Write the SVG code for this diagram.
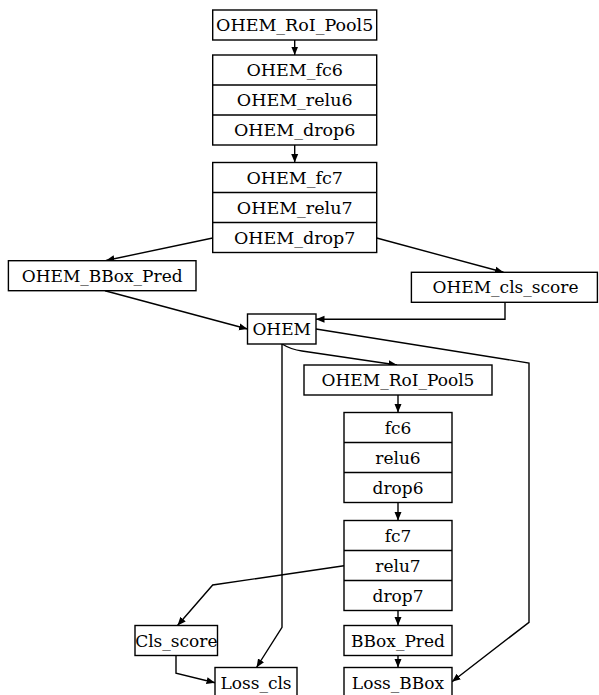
<svg xmlns="http://www.w3.org/2000/svg" width="599" height="695" viewBox="0 0 599 695">
<style>
.box{fill:#fff;stroke:#000;stroke-width:1.4}
.div{stroke:#000;stroke-width:1.4}
text{font-family:"DejaVu Serif","Liberation Serif",serif;font-size:17px;text-anchor:middle;fill:#000}
.top{font-size:17.5px}
.c{fill:none;stroke:#000;stroke-width:1.4;marker-end:url(#ah)}
</style>
<defs>
<marker id="ah" markerUnits="userSpaceOnUse" markerWidth="10" markerHeight="9" refX="8.5" refY="4.5" orient="auto">
<path d="M0,1 L8.5,4.5 L0,8 Z" fill="#000"/>
</marker>
</defs>
<rect width="599" height="695" fill="#fff"/>
<g id="connectors">
<path class="c" d="M294.7,40 L294.7,55"/>
<path class="c" d="M294.7,145 L294.7,162.5"/>
<path class="c" d="M212.7,238 L106,260.5"/>
<path class="c" d="M376.7,238 L503.5,272.3"/>
<path class="c" d="M105,290.7 L247.5,329"/>
<path class="c" d="M505,302.3 L505,319.3 L316,319.3"/>
<path class="c" d="M316,329 L529,363 L529,622.3 L452,681.7"/>
<path class="c" d="M282,344 Q291,349.5 302,351 L397,365"/>
<path class="c" d="M282,344 L282,627.3 L256.5,667.5"/>
<path class="c" d="M398,395 L398,412.5"/>
<path class="c" d="M398,502.5 L398,520.5"/>
<path class="c" d="M398,610.5 L398,625.5"/>
<path class="c" d="M398,655.5 L398,667.5"/>
<path class="c" d="M344,565.7 L212.7,585 L177.5,625.5"/>
<path class="c" d="M176,655.5 L176,673.3 L215,682.7"/>
</g>
<g id="ohem_roi_pool5_top">
<rect class="box" x="212.7" y="10" width="164" height="30"/>
<text class="top" x="294.7" y="31.2">OHEM_RoI_Pool5</text>
</g>
<g id="ohem_fc6_block">
<rect class="box" x="212.7" y="55" width="164" height="90"/>
<line class="div" x1="212.7" y1="85" x2="376.7" y2="85"/>
<line class="div" x1="212.7" y1="115" x2="376.7" y2="115"/>
<text class="top" x="294.7" y="76.2">OHEM_fc6</text>
<text class="top" x="294.7" y="106.2">OHEM_relu6</text>
<text class="top" x="294.7" y="136.2">OHEM_drop6</text>
</g>
<g id="ohem_fc7_block">
<rect class="box" x="212.7" y="162.5" width="164" height="90"/>
<line class="div" x1="212.7" y1="192.5" x2="376.7" y2="192.5"/>
<line class="div" x1="212.7" y1="222.5" x2="376.7" y2="222.5"/>
<text class="top" x="294.7" y="183.7">OHEM_fc7</text>
<text class="top" x="294.7" y="213.7">OHEM_relu7</text>
<text class="top" x="294.7" y="243.7">OHEM_drop7</text>
</g>
<g id="ohem_bbox_pred">
<rect class="box" x="8.4" y="260.7" width="187.6" height="30"/>
<text x="102.2" y="281.7">OHEM_BBox_Pred</text>
</g>
<g id="ohem_cls_score">
<rect class="box" x="411.4" y="272.3" width="186" height="30"/>
<text x="505.5" y="293.3">OHEM_cls_score</text>
</g>
<g id="ohem">
<rect class="box" x="247.5" y="314" width="68.5" height="30"/>
<text x="281.7" y="335">OHEM</text>
</g>
<g id="ohem_roi_pool5">
<rect class="box" x="304" y="365" width="188" height="30"/>
<text x="398" y="386">OHEM_RoI_Pool5</text>
</g>
<g id="fc6_block">
<rect class="box" x="344" y="412.5" width="108" height="90"/>
<line class="div" x1="344" y1="442.5" x2="452" y2="442.5"/>
<line class="div" x1="344" y1="472.5" x2="452" y2="472.5"/>
<text x="398" y="433.5">fc6</text>
<text x="398" y="463.5">relu6</text>
<text x="398" y="493.5">drop6</text>
</g>
<g id="fc7_block">
<rect class="box" x="344" y="520.5" width="108" height="90"/>
<line class="div" x1="344" y1="550.5" x2="452" y2="550.5"/>
<line class="div" x1="344" y1="580.5" x2="452" y2="580.5"/>
<text x="398" y="541.5">fc7</text>
<text x="398" y="571.5">relu7</text>
<text x="398" y="601.5">drop7</text>
</g>
<g id="bbox_pred">
<rect class="box" x="344" y="625.5" width="108" height="30"/>
<text x="398" y="646.5">BBox_Pred</text>
</g>
<g id="loss_bbox">
<rect class="box" x="344" y="667.5" width="108" height="30"/>
<text x="398" y="688.5">Loss_BBox</text>
</g>
<g id="cls_score">
<rect class="box" x="135" y="625.5" width="82.5" height="30"/>
<text x="176.3" y="646.5">Cls_score</text>
</g>
<g id="loss_cls">
<rect class="box" x="215" y="667.5" width="82" height="30"/>
<text x="256" y="688.5">Loss_cls</text>
</g>
</svg>
